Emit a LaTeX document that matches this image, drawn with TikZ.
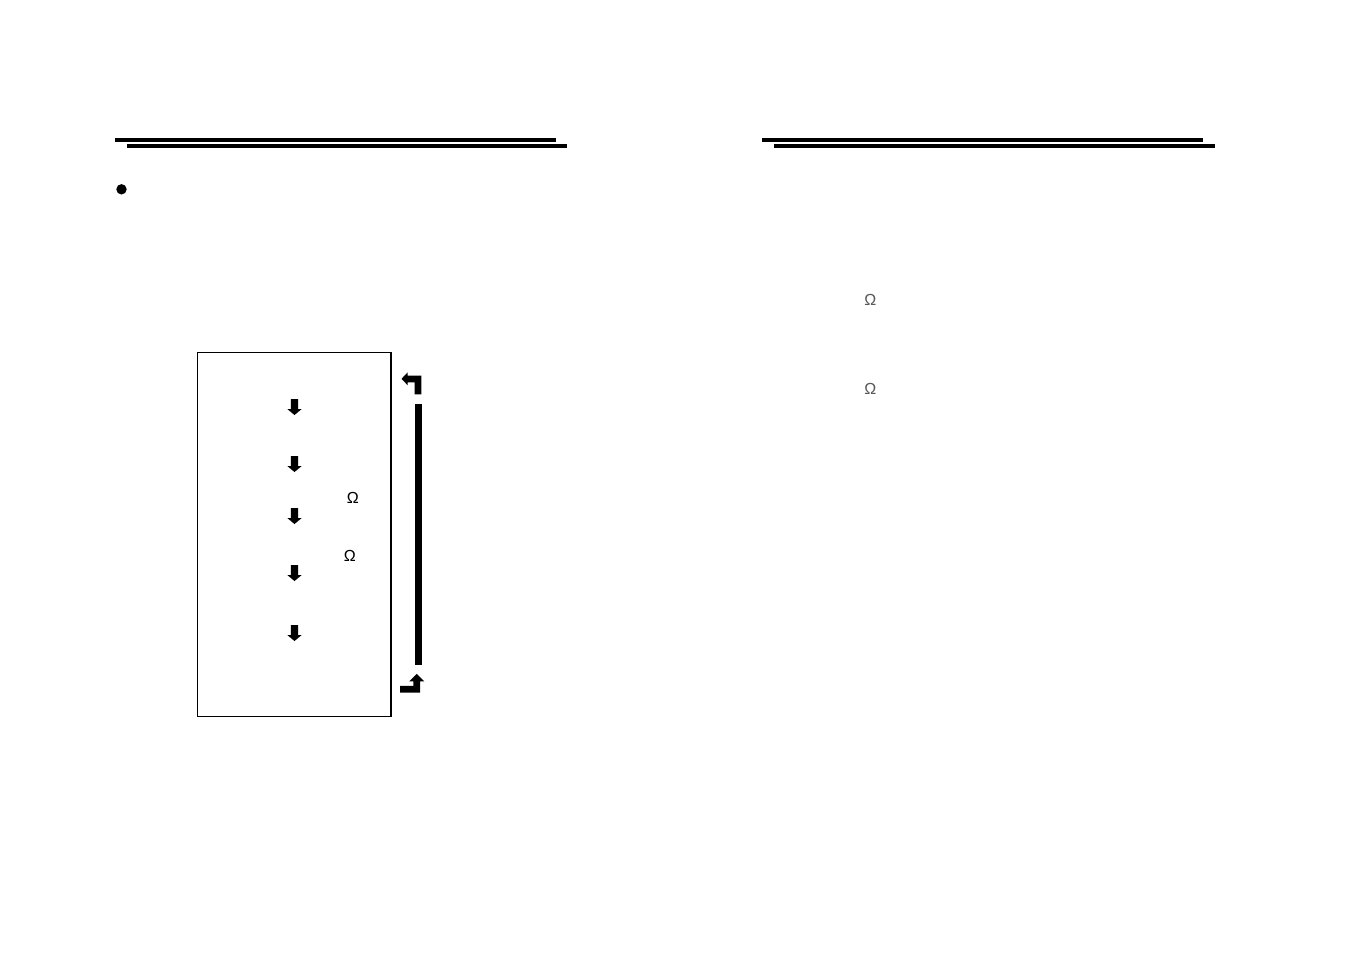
\documentclass[tikz,border=0pt]{standalone}
\usepackage{fontspec}
\setmainfont{Liberation Sans}
\begin{document}
\begin{tikzpicture}[x=1pt,y=-1pt,
  rule/.style={fill=black,draw=none},
  omega/.style={inner sep=0pt,font=\fontsize{16}{16}\selectfont},
  gomega/.style={omega,text=black!65},
  downarrow/.pic={\fill[black] (-3.7,0) -- (3.7,0) -- (3.7,10) -- (7.2,10) -- (0,16) -- (-7.2,10) -- (-3.7,10) -- cycle;}]
\useasboundingbox (0,0) rectangle (1350,954);
% header rules, left page
\fill[rule] (115,138) rectangle (556,142);
\fill[rule] (127,144) rectangle (567,147.5);
% header rules, right page
\fill[rule] (762,138) rectangle (1203,142);
\fill[rule] (774,144) rectangle (1215,147.5);
% bullet
\fill (121.5,189.3) circle (5.2);
% box
\node[draw=black,line width=1.1pt,minimum width=193.5pt,minimum height=364.5pt,inner sep=0pt] (box) at (294.2,534.5) {};
% down arrows
\foreach \yy/\nm in {399/a1,456/a2,508/a3,565/a4,625/a5}{
  \pic (\nm) at (294.5,\yy) {downarrow};
}
% omegas
\node[omega] (om1) at (352.8,498.3) {Ω};
\node[omega] (om2) at (349.8,555.5) {Ω};
\node[gomega] (om3) at (870.3,299.7) {Ω};
\node[gomega] (om4) at (870.3,388.8) {Ω};
% vertical bar
\fill[rule] (415,404.3) rectangle (422.3,665);
% top turn arrow (points left)
\fill[black] (421.3,394.3) -- (421.3,375.7) -- (407.7,375.7) -- (407.7,372.3) -- (401.5,378.8) -- (407.7,385.3) -- (407.7,382.3) -- (414.5,382.3) -- (414.5,394.3) -- cycle;
% bottom turn arrow (points up)
\fill[black] (400,692.6) -- (420.2,692.6) -- (420.2,681.3) -- (424.3,681.3) -- (416.7,673.8) -- (409.3,681.3) -- (413.3,681.3) -- (413.3,685.8) -- (400,685.8) -- cycle;
\end{tikzpicture}
\end{document}
